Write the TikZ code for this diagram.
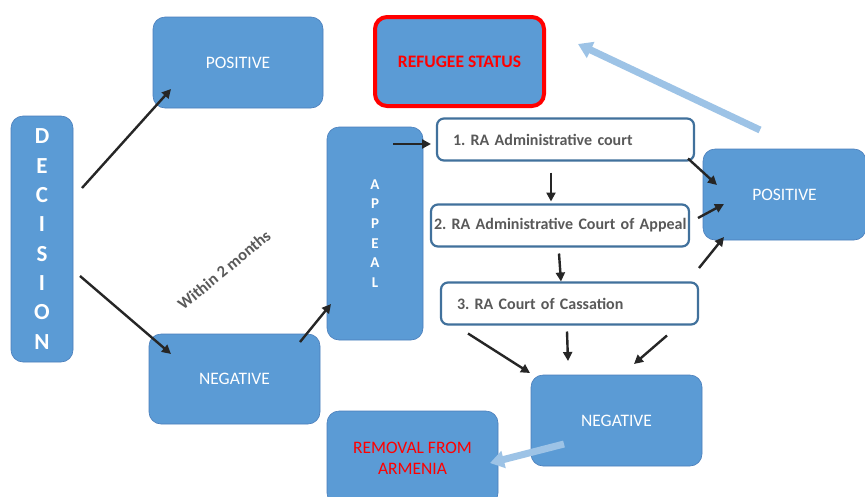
\documentclass[tikz,border=0pt]{standalone}
\usepackage{fontspec}
\setmainfont{Carlito}
\usetikzlibrary{arrows.meta,calc}
\frenchspacing

\definecolor{boxblue}{HTML}{5B9BD5}
\definecolor{boxedge}{HTML}{4A7EBB}
\definecolor{courtedge}{HTML}{41719C}
\definecolor{textgray}{HTML}{595959}
\definecolor{paleblue}{HTML}{9DC3E6}
\definecolor{arrowblack}{HTML}{262626}

\tikzset{
  blk/.style={draw=boxedge, line width=0.6pt, fill=boxblue, rounded corners=12pt,
    text=white, font=\fontsize{17.5}{21}\selectfont, align=center,
    inner sep=0pt, outer sep=0pt},
  court/.style={draw=courtedge, line width=2.2pt, fill=white, rounded corners=7pt,
    text=textgray, font=\bfseries\fontsize{16}{19}\selectfont, align=left,
    text width=225pt, inner xsep=16pt, inner ysep=0pt, minimum height=42pt, outer sep=0pt},
  arr/.style={-{Triangle[length=9pt,width=9pt]}, line width=2.4pt, draw=arrowblack},
  bigarr/.style={-{Triangle[length=14pt,width=17pt]}, line width=7pt, draw=paleblue}
}

\begin{document}
\begin{tikzpicture}[x=1pt,y=-1pt]
    \path[use as bounding box, fill=white] (0,0) rectangle (865,496);

    % boxes
    \node[blk, minimum width=62pt, minimum height=246pt,
      font=\bfseries\fontsize{23}{29.3}\selectfont] (dec) at (42,239)
      {D\\E\\C\\I\\S\\I\\O\\N};
    \node[blk, minimum width=170pt, minimum height=91pt] (pos1) at (238,62.5) {POSITIVE};
    \node[blk, draw=red, line width=4pt, text=red, minimum width=169pt, minimum height=89pt,
      font=\bfseries\fontsize{17.5}{21}\selectfont] (ref) at (459.5,61.5) {REFUGEE STATUS};
    \node[blk, minimum width=96pt, minimum height=213pt,
      font=\bfseries\fontsize{15}{19.7}\selectfont] (app) at (375,233.5)
      {A\\P\\P\\E\\A\\L};
    \node[court] (c1) at (565.5,139.5) {1. RA Administrative court};
    \node[court, inner xsep=3pt, text width=252pt] (c2) at (560,225.5)
      {\mbox{2. RA Administrative Court of Appeal}};
    \node[court] (c3) at (569.5,303.5) {3. RA Court of Cassation};
    \node[blk, minimum width=163pt, minimum height=91pt] (pos2) at (784.5,194.5) {POSITIVE};
    \node[blk, minimum width=171pt, minimum height=90pt] (neg1) at (234.5,379) {NEGATIVE};
    \node[blk, minimum width=171pt, minimum height=91pt] (neg2) at (616.5,420.5) {NEGATIVE};
    \node[blk, minimum width=171pt, minimum height=94pt, text=red] (rem) at (412.5,458)
      {REMOVAL FROM\\ARMENIA};

    \node[rotate=39.5, text=textgray, font=\bfseries\fontsize{16.5}{18}\selectfont]
      (within) at (224,270) {Within 2 months};

    % arrows
    \draw[arr] ($(dec.east)+(9,-51)$) -- ($(pos1.south west)+(18,-19)$);
    \draw[arr] ($(dec.east)+(7,37)$) -- ($(neg1.north west)+(22,20)$);
    \draw[arr] ($(neg1.north east)+(-20,8)$) -- ($(app.south west)+(4,-36)$);
    \draw[arr] ($(app.north)+(18,17)$) -- ($(c1.west)+(-6,4.5)$);
    \draw[arr] ($(c1.south)+(-14.5,12)$) -- ($(c2.north)+(-9,-3)$);
    \draw[arr] ($(c2.south)+(-1,7)$) -- ($(c3.north)+(-8.5,-1)$);
    \draw[arr] ($(c1.south east)+(-6,-2)$) -- ($(pos2.west)+(14,-9.5)$);
    \draw[arr] ($(c2.east)+(9,-7.5)$) -- ($(pos2.west)+(21,9.5)$);
    \draw[arr] ($(c3.east)+(1,-35.5)$) -- ($(pos2.south west)+(21,-3)$);
    \draw[arr] ($(c3.south west)+(27,9)$) -- ($(neg2.north west)+(-1,-2)$);
    \draw[arr] ($(c3.south)+(-2.5,7)$) -- ($(neg2.north)+(-48.5,-14)$);
    \draw[arr] ($(c3.south east)+(-31,11)$) -- ($(neg2.north)+(17.5,-11)$);

    \draw[bigarr] ($(pos2.north west)+(57,-19)$) -- ($(ref.east)+(34,-17.5)$);
    \draw[bigarr] ($(neg2.west)+(33,23.5)$) -- ($(rem.east)+(-8,5)$);
\end{tikzpicture}
\end{document}
